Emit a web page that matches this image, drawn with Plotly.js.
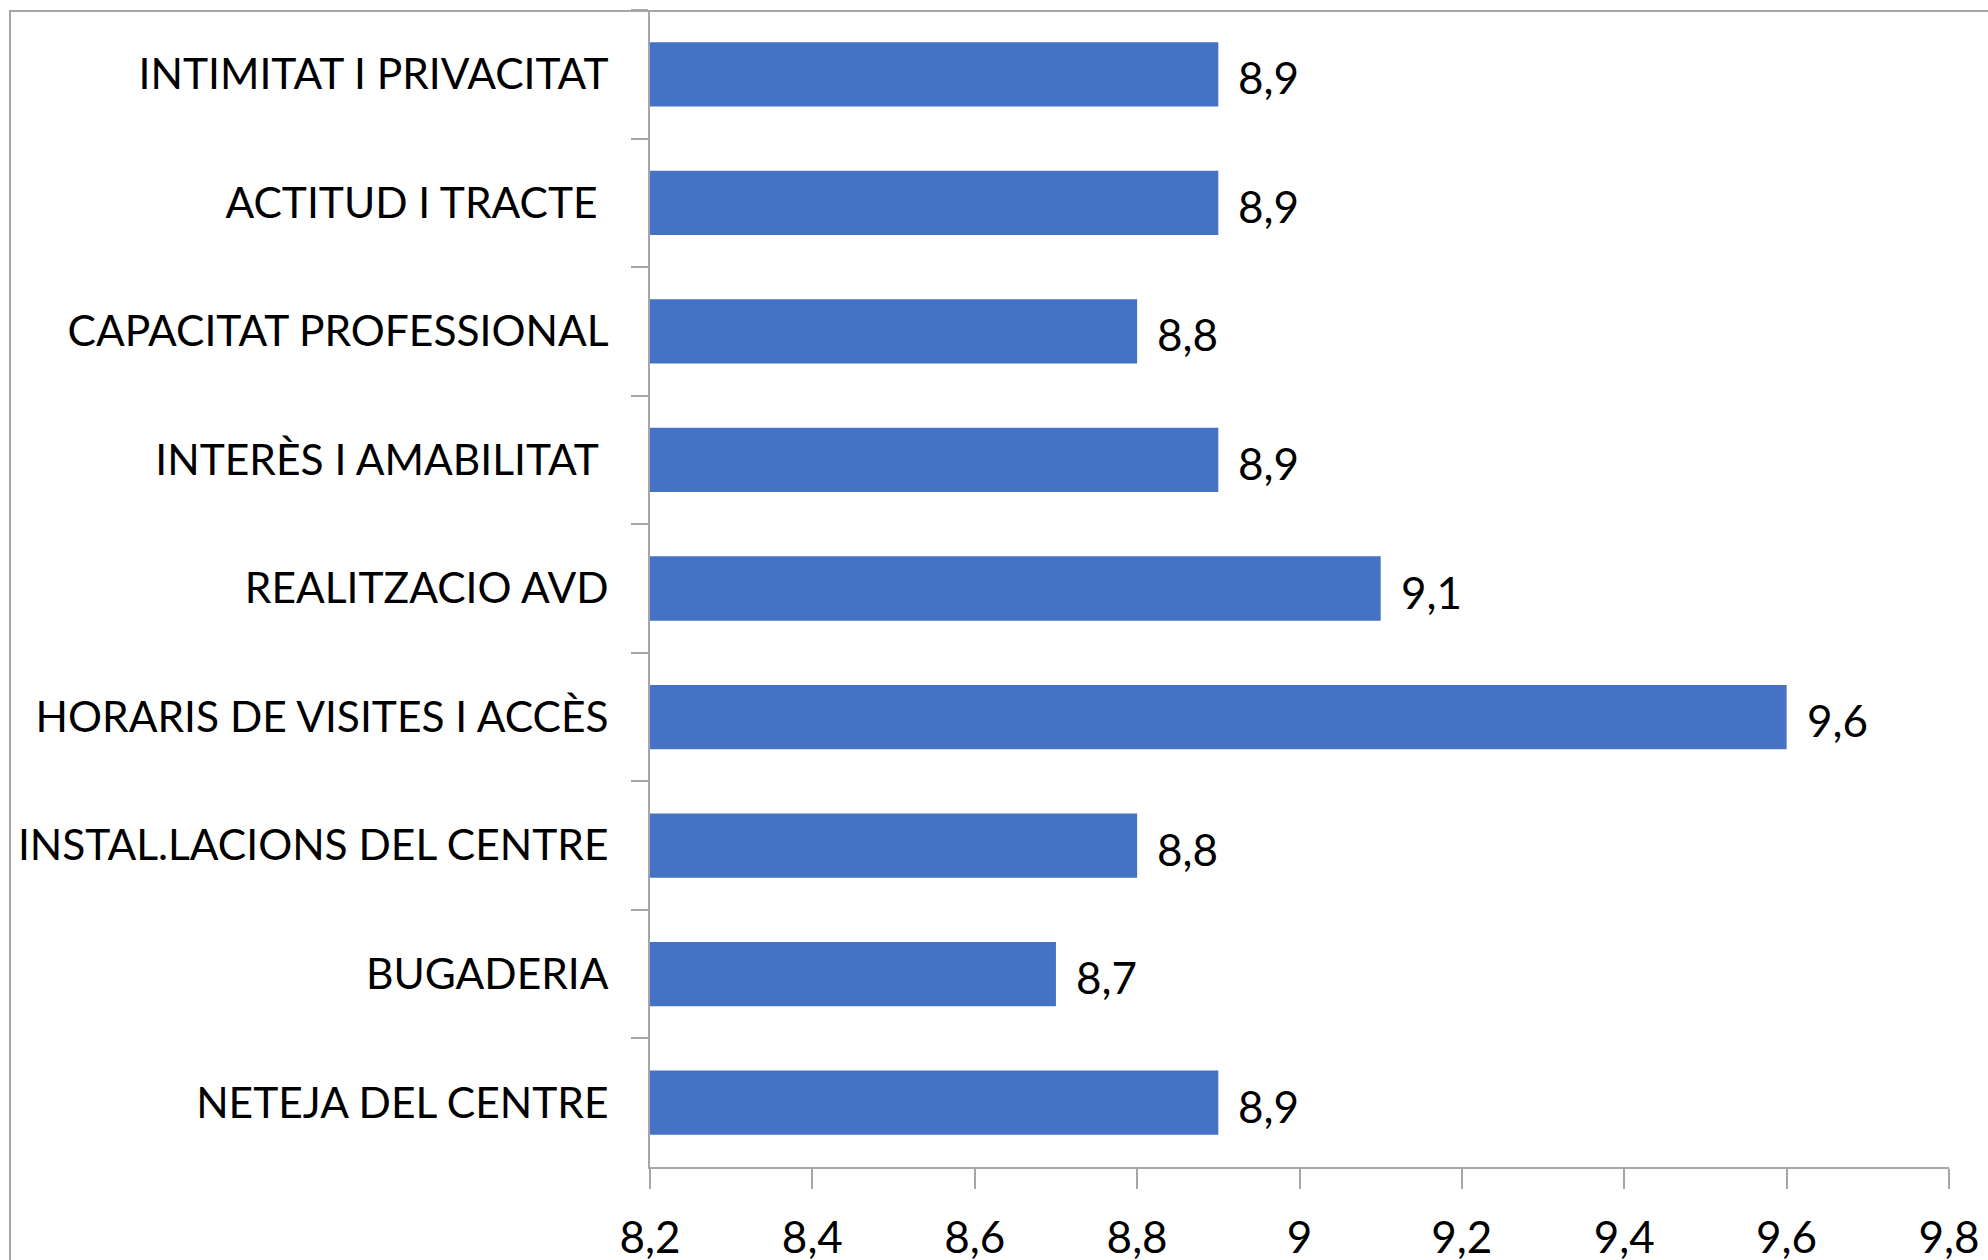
<!DOCTYPE html>
<html>
<head>
<meta charset="utf-8">
<script src="https://cdn.plot.ly/plotly-3.0.1.min.js"></script>
<style>
html,body{margin:0;padding:0;background:#fff;overflow:hidden;width:1988px;height:1260px;}
#frame{position:absolute;left:9px;top:10px;width:3000px;height:3000px;border-left:2px solid #A6A6A6;border-top:2px solid #A6A6A6;pointer-events:none;}
#chart{position:absolute;left:0;top:0;width:1988px;height:1260px;}
</style>
</head>
<body>
<div id="frame"></div>
<div id="chart"></div>
<script>
const categories = [
  "INTIMITAT I PRIVACITAT",
  "ACTITUD I TRACTE\u00a0",
  "CAPACITAT PROFESSIONAL",
  "INTERÈS I AMABILITAT\u00a0",
  "REALITZACIO AVD",
  "HORARIS DE VISITES I ACCÈS",
  "INSTAL.LACIONS DEL CENTRE",
  "BUGADERIA",
  "NETEJA DEL CENTRE"
];
const scores = [8.9, 8.9, 8.8, 8.9, 9.1, 9.6, 8.8, 8.7, 8.9];
const xTicks = [8.2, 8.4, 8.6, 8.8, 9, 9.2, 9.4, 9.6, 9.8];

const FONT = "Lato, 'Open Sans', sans-serif";
const FS = 44;

const trace = {
  type: 'bar',
  orientation: 'h',
  y: categories,
  x: scores,
  marker: {color: '#4472C4'},
  hoverinfo: 'none'
};

const annotations = categories.map((c, i) => ({
  x: scores[i],
  y: c,
  xref: 'x',
  yref: 'y',
  text: scores[i].toFixed(1).replace('.', ','),
  showarrow: false,
  xanchor: 'left',
  yanchor: 'middle',
  xshift: 18,
  yshift: -3,
  font: {family: FONT, size: FS, color: '#000'}
}));

const layout = {
  width: 1988,
  height: 1260,
  margin: {l: 650, r: 39, t: 10, b: 93, pad: 0},
  paper_bgcolor: 'rgba(0,0,0,0)',
  plot_bgcolor: 'rgba(0,0,0,0)',
  separators: ', ',
  showlegend: false,
  bargap: 0.5,
  font: {family: FONT, size: FS, color: '#000'},
  xaxis: {
    range: [8.2, 9.8],
    tickvals: xTicks,
    ticktext: xTicks.map(v => String(v).replace('.', ',')),
    showgrid: false,
    zeroline: false,
    showline: true,
    linecolor: '#A6A6A6',
    linewidth: 2,
    ticks: 'outside',
    ticklen: 20,
    tickwidth: 2,
    tickcolor: '#A6A6A6',
    ticklabelstandoff: 11,
    tickfont: {family: FONT, size: FS, color: '#000'},
    fixedrange: true
  },
  yaxis: {
    type: 'category',
    categoryorder: 'array',
    categoryarray: categories,
    autorange: 'reversed',
    showgrid: false,
    zeroline: false,
    showline: true,
    linecolor: '#A6A6A6',
    linewidth: 2,
    ticks: 'outside',
    tickson: 'boundaries',
    ticklen: 17,
    tickwidth: 2,
    tickcolor: '#A6A6A6',
    ticklabelstandoff: 31,
    tickfont: {family: FONT, size: 42.5, color: '#000'},
    fixedrange: true
  },
  annotations: annotations
};

Plotly.newPlot('chart', [trace], layout, {staticPlot: true, displayModeBar: false});
</script>
</body>
</html>
